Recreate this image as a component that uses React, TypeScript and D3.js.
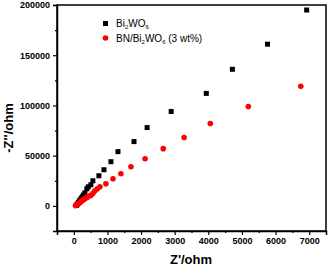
import React, { useEffect, useRef } from 'react';
import * as d3 from 'd3';

// Bi2WO6 (black squares)
const biX = [80, 100, 120, 140, 165, 190, 220, 250, 285, 330, 388, 430, 507, 567, 746, 896, 1104, 1313, 1790, 2180, 2896, 3940, 4716, 5760, 6925];
const biY = [500, 1500, 2500, 3500, 4800, 6000, 7500, 9000, 10800, 13000, 17000, 19000, 21000, 25000, 30000, 36000, 44000, 54000, 64000, 78000, 94000, 112000, 136000, 161000, 195000];

// BN/Bi2WO6 (3 wt%) (red circles)
const bnX = [50, 70, 90, 115, 140, 170, 200, 240, 275, 310, 350, 400, 450, 510, 570, 630, 700, 776, 955, 1165, 1400, 1700, 2120, 2660, 3280, 4060, 5190, 6750];
const bnY = [300, 700, 1200, 1800, 2400, 3100, 3900, 5000, 5800, 6700, 7600, 8700, 9800, 10500, 12500, 15000, 17000, 19000, 22000, 27000, 32000, 39000, 47000, 57000, 68000, 82000, 99000, 119000];

const xTicks = [0, 1000, 2000, 3000, 4000, 5000, 6000, 7000];
const yTicks = [0, 50000, 100000, 150000, 200000];

const W = 328;
const H = 267;
const FONT = '"Liberation Sans", Arial, sans-serif';

const App = () => {
  const svgRef = useRef<SVGSVGElement>(null);

  useEffect(() => {
    const svg = d3.select(svgRef.current);
    svg.selectAll('*').remove();

    const margin = { top: 5, right: 2, bottom: 36, left: 57 };
    const x = d3.scaleLinear().domain([-500, 7500]).range([margin.left, W - margin.right]);
    const y = d3.scaleLinear().domain([-25000, 200000]).range([H - margin.bottom, margin.top]);

    const g = svg.append('g');

    // frame
    g.append('rect')
      .attr('x', x(-500))
      .attr('y', y(200000))
      .attr('width', x(7500) - x(-500))
      .attr('height', y(-25000) - y(200000))
      .attr('fill', 'none')
      .attr('stroke', '#000')
      .attr('stroke-width', 1.5);

    // x axis
    const xAxis = g.append('g')
      .attr('transform', `translate(0,${y(-25000)})`)
      .call(d3.axisBottom(x).tickValues(xTicks).tickFormat(d3.format('d')).tickSize(4).tickPadding(3));
    g.append('g')
      .attr('transform', `translate(0,${y(-25000)})`)
      .call(d3.axisBottom(x).tickValues(d3.range(-500, 7501, 1000)).tickFormat(() => '').tickSize(2))
      .select('.domain').remove();

    // y axis
    const yAxis = g.append('g')
      .attr('transform', `translate(${x(-500)},0)`)
      .call(d3.axisLeft(y).tickValues(yTicks).tickFormat(d3.format('d')).tickSize(4).tickPadding(3));
    g.append('g')
      .attr('transform', `translate(${x(-500)},0)`)
      .call(d3.axisLeft(y).tickValues([-25000, 25000, 75000, 125000, 175000]).tickFormat(() => '').tickSize(2))
      .select('.domain').remove();

    [xAxis, yAxis].forEach(a => {
      a.select('.domain').attr('stroke-width', 1.5);
      a.selectAll('text')
        .attr('font-family', FONT)
        .attr('font-weight', 'bold')
        .attr('font-size', 9)
        .attr('fill', '#000');
    });
    g.selectAll('.tick line').attr('stroke-width', 1.2);

    // axis titles
    svg.append('text')
      .attr('x', 191)
      .attr('y', 264)
      .attr('text-anchor', 'middle')
      .attr('font-family', FONT)
      .attr('font-weight', 'bold')
      .attr('font-size', 13)
      .text("Z'/ohm");

    svg.append('text')
      .attr('transform', 'translate(13,128) rotate(-90)')
      .attr('text-anchor', 'middle')
      .attr('font-family', FONT)
      .attr('font-weight', 'bold')
      .attr('font-size', 13)
      .text("-Z''/ohm");

    // data
    const s = 5;
    g.selectAll('.sq')
      .data(d3.range(biX.length))
      .enter().append('rect')
      .attr('x', i => x(biX[i]) - s / 2)
      .attr('y', i => y(biY[i]) - s / 2)
      .attr('width', s)
      .attr('height', s)
      .attr('fill', '#000');

    g.selectAll('.ci')
      .data(d3.range(bnX.length))
      .enter().append('circle')
      .attr('cx', i => x(bnX[i]))
      .attr('cy', i => y(bnY[i]))
      .attr('r', 2.8)
      .attr('fill', '#ff0000');

    // legend
    const leg = svg.append('g')
      .attr('font-family', FONT)
      .attr('font-size', 10)
      .attr('fill', '#000');

    leg.append('rect').attr('x', 103).attr('y', 21).attr('width', 5).attr('height', 5).attr('fill', '#000');
    const t1 = leg.append('text').attr('x', 116).attr('y', 27);
    t1.append('tspan').text('Bi');
    t1.append('tspan').attr('font-size', 6).attr('dy', 2).text('2');
    t1.append('tspan').attr('dy', -2).text('WO');
    t1.append('tspan').attr('font-size', 6).attr('dy', 2).text('6');

    leg.append('circle').attr('cx', 105.5).attr('cy', 38).attr('r', 2.8).attr('fill', '#ff0000');
    const t2 = leg.append('text').attr('x', 116).attr('y', 42);
    t2.append('tspan').text('BN/Bi');
    t2.append('tspan').attr('font-size', 6).attr('dy', 2).text('2');
    t2.append('tspan').attr('dy', -2).text('WO');
    t2.append('tspan').attr('font-size', 6).attr('dy', 2).text('6');
    t2.append('tspan').attr('dy', -2).text(' (3 wt%)');
  }, []);

  return (
    <svg
      ref={svgRef}
      width={W}
      height={H}
      style={{ position: 'absolute', left: 0, top: 0, background: '#fff' }}
    />
  );
};

export default App;
